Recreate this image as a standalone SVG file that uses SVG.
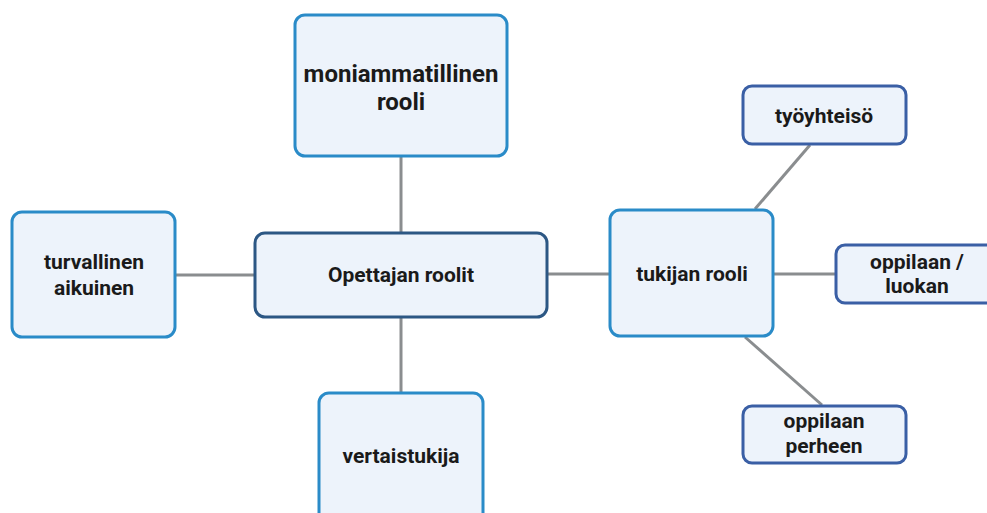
<svg xmlns="http://www.w3.org/2000/svg" width="987" height="513" viewBox="0 0 987 513">
<style>
.box{fill:#EDF3FB;stroke-width:3}
.main{stroke:#2A8BC8}
.center{stroke:#2C5784}
.sub{stroke:#3A5FA5}
.conn{stroke:#8A8D8F;stroke-width:3;fill:none}
text{font-family:Roboto,"Liberation Sans",sans-serif;font-weight:bold;fill:#1a1a1a;text-anchor:middle}
.t20{font-size:24px}
.t18{font-size:21px}
</style>
<rect width="987" height="513" fill="#ffffff"/>
<g id="connectors">
<line class="conn" x1="401" y1="156" x2="401" y2="233"/>
<line class="conn" x1="401" y1="317" x2="401" y2="392"/>
<line class="conn" x1="176" y1="275" x2="255" y2="275"/>
<line class="conn" x1="547" y1="274" x2="610" y2="274"/>
<line class="conn" x1="755" y1="209" x2="810" y2="145"/>
<line class="conn" x1="773" y1="274" x2="836" y2="274"/>
<line class="conn" x1="745" y1="337" x2="822" y2="405"/>
</g>
<g id="moniammatillinen">
<rect class="box main" x="295" y="15" width="212" height="141" rx="10"/>
<text class="t20" x="401" y="82">moniammatillinen</text>
<text class="t20" x="401" y="110">rooli</text>
</g>
<g id="opettajan">
<rect class="box center" x="255" y="233" width="292" height="84" rx="10"/>
<text class="t18" x="401" y="282">Opettajan roolit</text>
</g>
<g id="turvallinen">
<rect class="box main" x="12" y="212" width="163" height="125" rx="10"/>
<text class="t18" x="94" y="269">turvallinen</text>
<text class="t18" x="94" y="295">aikuinen</text>
</g>
<g id="vertaistukija">
<rect class="box main" x="319" y="393" width="164" height="140" rx="10"/>
<text class="t18" x="401" y="463">vertaistukija</text>
</g>
<g id="tukijan">
<rect class="box main" x="610" y="210" width="163" height="126" rx="10"/>
<text class="t18" x="692" y="281">tukijan rooli</text>
</g>
<g id="tyoyhteiso">
<rect class="box sub" x="743" y="86" width="163" height="58" rx="9"/>
<text class="t18" x="824" y="123">työyhteisö</text>
</g>
<g id="oppilaan-luokan">
<rect class="box sub" x="836" y="245" width="163" height="58" rx="9"/>
<text class="t18" x="917" y="269">oppilaan /</text>
<text class="t18" x="917" y="293">luokan</text>
</g>
<g id="oppilaan-perheen">
<rect class="box sub" x="743" y="406" width="163" height="57" rx="9"/>
<text class="t18" x="824" y="428">oppilaan</text>
<text class="t18" x="824" y="453">perheen</text>
</g>
</svg>
